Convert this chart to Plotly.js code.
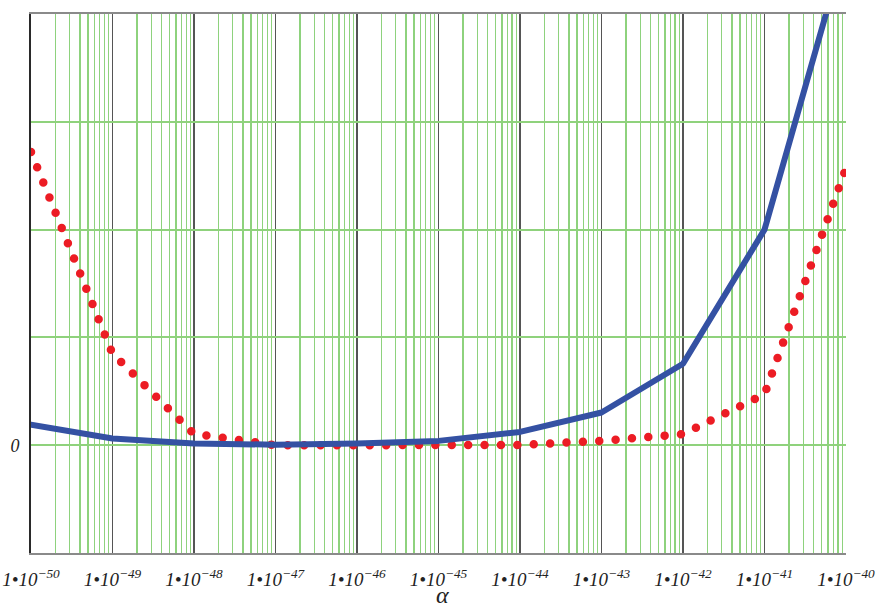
<!DOCTYPE html>
<html>
<head>
<meta charset="utf-8">
<script src="https://cdn.plot.ly/plotly-3.0.1.min.js"></script>
<style>
html, body { margin: 0; padding: 0; background: #ffffff; }
#chart { width: 876px; height: 610px; }
.scatterlayer .js-line { stroke-linecap: round; stroke-linejoin: round; }
</style>
</head>
<body>
<div id="chart"></div>
<script>
// x values (alpha), one per decade
const alpha = [1e-50, 1e-49, 1e-48, 1e-47, 1e-46, 1e-45, 1e-44, 1e-43, 1e-42, 1e-41, 1e-40];
// solid blue series
const blueSeries = [0.19, 0.062, 0.016, 0.005, 0.015, 0.04, 0.123, 0.303, 0.756, 2.0, 4.65];
// red dotted series
const redSeries = [2.72, 0.85, 0.105, 0.0, 0.0, 0.0, 0.003, 0.04, 0.103, 0.473, 2.57];

// tick labels
const xTickVals = [1e-50, 1e-49, 1e-48, 1e-47, 1e-46, 1e-45, 1e-44, 1e-43, 1e-42, 1e-41, 1e-40];
const xTickText = ['-50', '-49', '-48', '-47', '-46', '-45', '-44', '-43', '-42', '-41', '-40']
  .map(e => '1\u202210<sup>' + e.replace('-', '\u2212') + '</sup>');
const yTickVals = [-1, 0, 1, 2, 3, 4];
const yTickText = ['', '0', '', '', '', ''];
const xAxisTitle = '\u03b1';

const serif = 'Liberation Serif, Times New Roman, serif';

const traces = [
  {
    x: alpha, y: redSeries, type: 'scatter', mode: 'lines',
    line: { color: '#ec1c24', width: 8.5, dash: '0px,16.4px' },
    hoverinfo: 'skip'
  },
  {
    x: alpha, y: blueSeries, type: 'scatter', mode: 'lines',
    line: { color: '#3451a3', width: 6 },
    hoverinfo: 'skip'
  }
];

const layout = {
  width: 876, height: 610,
  margin: { l: 31, r: 30, t: 14, b: 57, pad: 0 },
  paper_bgcolor: '#ffffff', plot_bgcolor: '#ffffff',
  showlegend: false,
  xaxis: {
    type: 'log', range: [-50, -40],
    tickmode: 'array', tickvals: xTickVals, ticktext: xTickText,
    tickfont: { family: serif, size: 19, color: '#222', style: 'italic' },
    ticks: 'outside', ticklen: 8, tickcolor: 'rgba(0,0,0,0)',
    showgrid: true, gridcolor: '#555555', gridwidth: 1.5,
    minor: { dtick: 'D1', showgrid: true, gridcolor: '#8ed27d', gridwidth: 1.2, ticks: '' },
    showline: true, linecolor: '#8a8a8a', linewidth: 2, mirror: true,
    zeroline: false, automargin: false
  },
  yaxis: {
    range: [-1, 4],
    tickmode: 'array', tickvals: yTickVals, ticktext: yTickText,
    tickfont: { family: serif, size: 18, color: '#222', style: 'italic' },
    ticks: 'outside', ticklen: 6, tickcolor: 'rgba(0,0,0,0)',
    showgrid: true, gridcolor: '#8fd27c', gridwidth: 2,
    showline: true, linecolor: '#2a2a2a', linewidth: 2,
    zeroline: false, automargin: false
  },
  annotations: [{
    text: xAxisTitle, xref: 'paper', yref: 'paper', x: 0.505, y: -0.1035,
    xanchor: 'center', yanchor: 'bottom', showarrow: false, borderpad: 0,
    font: { family: serif, size: 24, color: '#222', style: 'italic' }
  }]
};

Plotly.newPlot('chart', traces, layout, { staticPlot: true, displayModeBar: false });
</script>
</body>
</html>
